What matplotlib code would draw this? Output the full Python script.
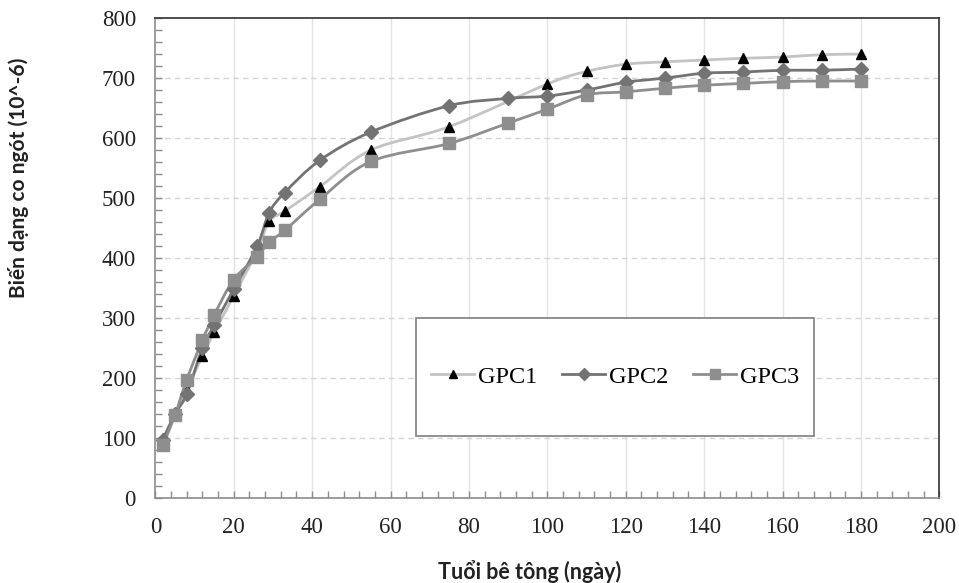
import numpy as np
import matplotlib
matplotlib.use("Agg")
import matplotlib.pyplot as plt
from matplotlib.path import Path
from matplotlib.patches import PathPatch, Rectangle
from matplotlib.lines import Line2D
from matplotlib.ticker import MultipleLocator

# -----------------------------
# Data
# -----------------------------
days_gpc1 = [2, 5, 8, 12, 15, 20, 26, 29, 33, 42, 55, 75,
             100, 110, 120, 130, 140, 150, 160, 170, 180]
gpc1 = [100, 140, 180, 237, 276, 337, 412, 461, 478, 519, 580, 619,
        690, 711, 723, 727, 730, 733, 735, 739, 740]

days_gpc23 = [2, 5, 8, 12, 15, 20, 26, 29, 33, 42, 55, 75, 90,
              100, 110, 120, 130, 140, 150, 160, 170, 180]
gpc2 = [97, 140, 173, 250, 288, 348, 420, 475, 509, 563, 610, 654, 666,
        670, 680, 693, 700, 708, 710, 713, 713, 715]
gpc3 = [89, 138, 197, 263, 305, 364, 402, 426, 446, 498, 561, 591, 625,
        648, 672, 677, 683, 688, 691, 694, 695, 695]

labels = ["GPC1", "GPC2", "GPC3"]
x_label = "Tuổi bê tông (ngày)"
y_label = "Biến dạng co ngót (10^-6)"


def smooth_path(xs, ys):
    # Excel-like smoothed line: cubic Bezier segments through the points
    p = np.column_stack([xs, ys]).astype(float)
    n = len(p)
    verts = [p[0]]
    codes = [Path.MOVETO]
    for i in range(n - 1):
        p_prev = p[i - 1] if i > 0 else p[i]
        p_next2 = p[i + 2] if i + 2 < n else p[i + 1]
        c1 = p[i] + (p[i + 1] - p_prev) / 6.0
        c2 = p[i + 1] - (p_next2 - p[i]) / 6.0
        verts += [c1, c2, p[i + 1]]
        codes += [Path.CURVE4] * 3
    return Path(verts, codes)


fig = plt.figure(figsize=(9.59, 5.83), dpi=100)
ax = fig.add_axes([0.162, 0.146, 0.8175, 0.823])

series = [
    (days_gpc1, gpc1, "#c3c3c3", "^", "black", 6.5),
    (days_gpc23, gpc2, "#737373", "D", "#737373", 7.5),
    (days_gpc23, gpc3, "#8e8e8e", "s", "#8e8e8e", 9),
]

handles = []
for k, (xs, ys, lc, mk, mc, ms) in enumerate(series):
    patch = PathPatch(smooth_path(xs, ys), facecolor="none", edgecolor=lc,
                      lw=2.0, zorder=3 + k)
    ax.add_patch(patch)
    ax.plot(xs, ys, linestyle="none", marker=mk, markersize=ms,
            markerfacecolor=mc, markeredgecolor=mc, zorder=6 + k)
    handles.append(Line2D([], [], color=lc, lw=2.0, marker=mk,
                          markersize=ms * 0.85, markerfacecolor=mc,
                          markeredgecolor=mc))

ax.set_xlim(0, 200)
ax.set_ylim(0, 800)
ax.xaxis.set_major_locator(MultipleLocator(20))
ax.xaxis.set_minor_locator(MultipleLocator(4))
ax.yaxis.set_major_locator(MultipleLocator(100))
ax.yaxis.set_minor_locator(MultipleLocator(20))

# grid: solid verticals, dashed horizontals
for xv in range(20, 200, 20):
    ax.axvline(xv, color="#e4e4e4", lw=1.0, zorder=1)
for yv in range(100, 800, 100):
    ax.axhline(yv, color="#d4d4d4", lw=1.0, ls=(0, (4, 3)), zorder=1)

ax.tick_params(which="both", direction="in", length=5, width=1,
               color="#8c8c8c")
ax.tick_params(axis="x", pad=14)
ax.tick_params(axis="y", pad=14)
for lab in ax.get_xticklabels() + ax.get_yticklabels():
    lab.set_fontfamily("Liberation Serif")
    lab.set_fontsize(16.5)
    lab.set_color("#222222")

for side in ["left", "bottom"]:
    ax.spines[side].set_color("#8c8c8c")
    ax.spines[side].set_linewidth(1.2)
for side in ["top", "right"]:
    ax.spines[side].set_color("#404040")
    ax.spines[side].set_linewidth(1.3)

label_font = ["Lato", "Noto Sans", "DejaVu Sans"]
ax.set_xlabel(x_label, fontsize=15.5, fontweight="bold", family=label_font,
              color="#222222")
ax.set_ylabel(y_label, fontsize=15, fontweight="bold", family=label_font,
              color="#222222")
ax.xaxis.set_label_coords(0.478, -0.154)
ax.yaxis.set_label_coords(-0.175, 0.668)
ax.xaxis.label.set_va("center")
ax.yaxis.label.set_va("center")

# legend box
ax.add_patch(Rectangle((0.333, 0.129), 0.507, 0.246, transform=ax.transAxes,
                       facecolor="white", edgecolor="#7f7f7f", lw=1.2,
                       zorder=10))
ax.legend(handles, labels, loc="center", bbox_to_anchor=(0.5865, 0.252),
          ncol=3, frameon=False, handlelength=1.75, handletextpad=0.15,
          columnspacing=1.05, prop={"family": "Liberation Serif", "size": 17.5})
ax.get_legend().set_zorder(11)

fig.savefig("out.png", dpi=100)
